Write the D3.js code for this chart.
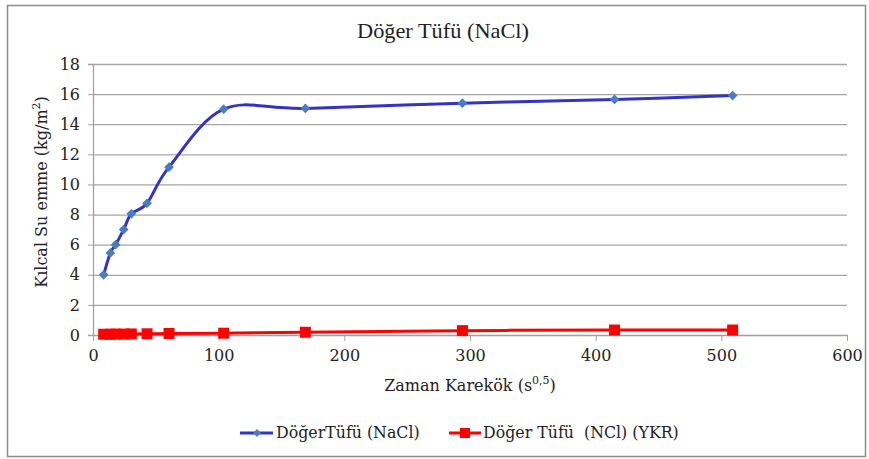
<!DOCTYPE html>
<html>
<head>
<meta charset="utf-8">
<script src="https://cdn.jsdelivr.net/npm/d3@7"></script>
<style>
  body { margin: 0; background: #fff; }
  text { font-family: "DejaVu Serif", "Liberation Serif", serif; fill: #222; }
</style>
</head>
<body>
<div id="chart"></div>
<script>
// data
var timeVals = [8.5, 13.8, 18, 24.4, 30.5, 43, 60.5, 104, 169, 294, 415, 509];
var nacl = [4.0, 5.45, 6.0, 7.0, 8.05, 8.75, 11.15, 15.0, 15.05, 15.4, 15.65, 15.9];
var ykr = [0.05, 0.05, 0.06, 0.06, 0.07, 0.08, 0.1, 0.12, 0.18, 0.29, 0.33, 0.33];
var xTicks = [0, 100, 200, 300, 400, 500, 600];
var yTicks = [0, 2, 4, 6, 8, 10, 12, 14, 16, 18];
var seriesNames = ["DöğerTüfü (NaCl)", "Döğer Tüfü  (NCl) (YKR)"];

// set the dimensions and margins of the graph
var W = 869, H = 459;
var margin = {top: 64, left: 93, right: 22, bottom: 124};
var width = W - margin.left - margin.right,
    height = H - margin.top - margin.bottom;

var svg = d3.select("#chart")
  .append("svg")
    .attr("width", W)
    .attr("height", H);

// outer frame
svg.append("rect")
  .attr("x", 7.5).attr("y", 5.5)
  .attr("width", 858).attr("height", 451)
  .attr("fill", "none")
  .attr("stroke", "#8c8c8c")
  .attr("stroke-width", 1.5);

// title
svg.append("text")
  .attr("x", 443).attr("y", 38)
  .attr("text-anchor", "middle")
  .style("font-family", "'Liberation Serif', serif")
  .style("font-size", "21px")
  .attr("textLength", 172)
  .attr("lengthAdjust", "spacingAndGlyphs")
  .text("Döğer Tüfü (NaCl)");

var g = svg.append("g")
  .attr("transform", "translate(" + margin.left + "," + margin.top + ")");

var x = d3.scaleLinear().domain([0, 600]).range([0, width]);
var y = d3.scaleLinear().domain([0, 18]).range([height, 0]);

// gridlines
g.selectAll(".grid")
  .data(yTicks.filter(function(d) { return d > 0; }))
  .enter().append("line")
    .attr("x1", 0).attr("x2", width)
    .attr("y1", function(d) { return y(d) + 0.5; })
    .attr("y2", function(d) { return y(d) + 0.5; })
    .attr("stroke", "#a6a6a6")
    .attr("stroke-width", 1.3);

// Y axis
var yAxis = g.append("g")
  .call(d3.axisLeft(y).tickValues(yTicks).tickSize(5).tickPadding(8));
yAxis.select(".domain").attr("stroke", "#a0a0a0").attr("stroke-width", 1.3);
yAxis.selectAll(".tick line").attr("stroke", "#a0a0a0");
yAxis.selectAll("text").style("font-size", "16px").attr("fill", "#222");

// X axis
var xAxis = g.append("g")
  .attr("transform", "translate(0," + height + ")")
  .call(d3.axisBottom(x).tickValues(xTicks).tickSize(6).tickPadding(9).tickSizeOuter(0));
xAxis.select(".domain").attr("stroke", "#a0a0a0").attr("stroke-width", 1.3);
xAxis.selectAll(".tick line").attr("stroke", "#a0a0a0");
xAxis.selectAll("text").style("font-size", "16px").attr("fill", "#222");

// axis titles
var xt = svg.append("text")
  .attr("x", 470).attr("y", 391)
  .attr("text-anchor", "middle")
  .style("font-size", "16px");
xt.append("tspan").text("Zaman Karekök (s");
xt.append("tspan").attr("dy", -7).style("font-size", "11px").text("0,5");
xt.append("tspan").attr("dy", 7).text(")");

var yt = svg.append("text")
  .attr("transform", "translate(47,192) rotate(-90)")
  .attr("text-anchor", "middle")
  .style("font-size", "16px");
yt.append("tspan").text("Kılcal Su emme (kg/m");
yt.append("tspan").attr("dy", -7).style("font-size", "11px").text("2");
yt.append("tspan").attr("dy", 7).text(")");

var line = d3.line()
  .x(function(d, i) { return x(timeVals[i]); })
  .y(function(d) { return y(d); })
  .curve(d3.curveCardinal.tension(0));

// red series
g.append("path")
  .datum(ykr)
  .attr("d", line)
  .attr("fill", "none")
  .attr("stroke", "#ff0000")
  .attr("stroke-width", 3);
g.selectAll(".sq")
  .data(ykr)
  .enter().append("rect")
    .attr("x", function(d, i) { return x(timeVals[i]) - 5.5; })
    .attr("y", function(d) { return y(d) - 5.5; })
    .attr("width", 11).attr("height", 11)
    .attr("fill", "#ff0000");

// blue series
g.append("path")
  .datum(nacl)
  .attr("d", line)
  .attr("fill", "none")
  .attr("stroke", "#3434c4")
  .attr("stroke-width", 3);
var diamond = d3.symbol().type(d3.symbolDiamond2).size(60);
g.selectAll(".dm")
  .data(nacl)
  .enter().append("path")
    .attr("d", diamond)
    .attr("transform", function(d, i) { return "translate(" + x(timeVals[i]) + "," + y(d) + ")"; })
    .attr("fill", "#4a7ebb");

// legend
var leg = svg.append("g");
leg.append("line").attr("x1", 240).attr("x2", 273).attr("y1", 433).attr("y2", 433)
  .attr("stroke", "#3434c4").attr("stroke-width", 3);
leg.append("path").attr("d", d3.symbol().type(d3.symbolDiamond2).size(40))
  .attr("transform", "translate(257,433)").attr("fill", "#4a7ebb");
leg.append("text").attr("x", 276).attr("y", 438).style("font-size", "15.8px").text(seriesNames[0]);

leg.append("line").attr("x1", 449).attr("x2", 481).attr("y1", 433).attr("y2", 433)
  .attr("stroke", "#ff0000").attr("stroke-width", 3);
leg.append("rect").attr("x", 460).attr("y", 428).attr("width", 10).attr("height", 10)
  .attr("fill", "#ff0000");
leg.append("text").attr("x", 483).attr("y", 438).style("font-size", "15.8px")
  .attr("xml:space", "preserve").text(seriesNames[1]);
</script>
</body>
</html>
